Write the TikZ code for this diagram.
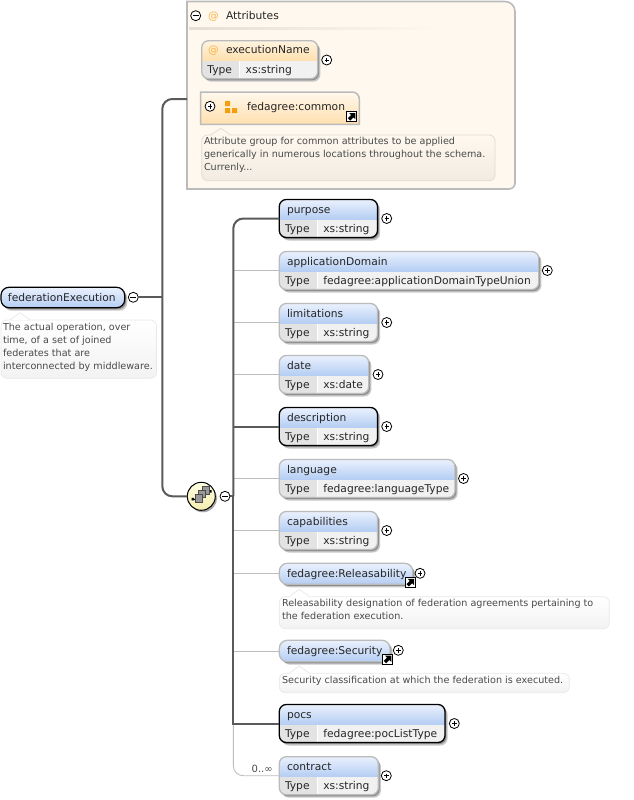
\documentclass[tikz,border=0pt]{standalone}
\usepackage{fontspec}
\setmainfont{DejaVu Sans}
\usetikzlibrary{calc,shadows}
\definecolor{busc}{HTML}{5A5A5A}
\definecolor{thinc}{HTML}{BDBDBD}
\definecolor{blueT}{HTML}{EAF1FD}
\definecolor{blueB}{HTML}{B4CDF3}
\definecolor{orgT}{HTML}{FFF4E0}
\definecolor{orgB}{HTML}{FFDFAE}
\definecolor{attrbg}{HTML}{FEF8EE}
\definecolor{attrln}{HTML}{BBBBBB}
\definecolor{orgic}{HTML}{F59E0B}
\definecolor{cellA}{HTML}{E3E3E3}
\definecolor{cellB}{HTML}{F1F1F1}
\definecolor{ntxt}{HTML}{4A4A4A}
\definecolor{seqT}{HTML}{FFFFE2}
\definecolor{seqB}{HTML}{F4ECB0}
\tikzset{
  x=1pt,y=-1pt,
  softshadow/.style={
    general shadow={fill=black!22,shadow xshift=2.6pt,shadow yshift=-3pt},
    general shadow={fill=black!45,shadow xshift=1.4pt,shadow yshift=-1.6pt}},
  boxbase/.style={rectangle,rounded corners=7pt,inner sep=0,outer sep=0,anchor=north west,softshadow},
  reqd/.style={boxbase,draw=black,line width=1.3pt},
  opt/.style={boxbase,draw=attrln,line width=1.3pt},
  lbl/.style={font=\fontsize{10.7}{13}\selectfont,inner sep=0,outer sep=0,anchor=base west,text=black!85},
  notetxt/.style={font=\fontsize{9.62}{13}\selectfont,inner sep=0,outer sep=0,anchor=north west,align=left,text=ntxt},
  noteb/.style={rectangle,rounded corners=6pt,inner sep=0,outer sep=0,anchor=north west,line width=.7pt,draw=black!9,top color=white,bottom color=black!5},
  noteo/.style={rectangle,rounded corners=6pt,inner sep=0,outer sep=0,anchor=north west,line width=.7pt,draw=black!12!attrbg,top color=attrbg,bottom color=black!5!attrbg},
  tog/.style={circle,draw=black,line width=.8pt,fill=white,minimum size=10pt,inner sep=0,outer sep=0},
  tplus/.style={tog,path picture={\draw[black,line width=.6pt]
     ($(path picture bounding box.center)+(-2.2,0)$)--($(path picture bounding box.center)+(2.2,0)$)
     ($(path picture bounding box.center)+(0,-2.2)$)--($(path picture bounding box.center)+(0,2.2)$);}},
  tminus/.style={tog,path picture={\draw[black,line width=.7pt]
     ($(path picture bounding box.center)+(-3,0)$)--($(path picture bounding box.center)+(3,0)$);}},
  busd/.style={draw=busc,line width=2pt},
  busl/.style={draw=thinc,line width=.9pt},
  linkb/.style={rectangle,draw=black,fill=white,line width=1pt,minimum size=10pt,inner sep=0,outer sep=0,anchor=north west,
     path picture={\fill[black] ($(path picture bounding box.north east)+(-1.2,1.2)$) -- ++(-6.2,0) -- ++(1.9,1.9) -- ++(-3.3,3.3) -- ++(2.4,2.4) -- ++(3.3,-3.3) -- ++(1.9,1.9) -- cycle;}},
}
\newcommand\typedbox[8]{%
  \pgfmathsetmacro\bw{#4-#2}%
  \node[#5,minimum width=\bw pt,minimum height=38pt,
    path picture={
      \begin{scope}[sharp corners]
      \coordinate (nw) at (path picture bounding box.north west);
      \coordinate (se) at (path picture bounding box.south east);
      \shade[top color=#6,bottom color=#7] (nw) rectangle ($(nw)+(\bw,20)$);
      \fill[cellA] ($(nw)+(0,20)$) rectangle ($(nw |- se)+(38,0)$);
      \fill[cellB] ($(nw)+(38,20)$) rectangle (se);
      \draw[white,line width=.7pt] ($(nw)+(38,20)$) -- ($(nw |- se)+(38,0)$);
      \end{scope}
    }] (#1) at (#2,#3) {};%
  \node[lbl] (#1-t) at ($(#1.north west)+(5.7,33)$) {Type};%
  \node[lbl] (#1-v) at ($(#1.north west)+(44,33)$) {#8};%
}
\newcommand\elembox[7]{%
  \typedbox{#1}{#2}{#3}{#4}{#5}{blueT}{blueB}{#7}%
  \node[lbl] (#1-n) at ($(#1.north west)+(7.7,14)$) {#6};%
}
\newcommand\notep[3]{%
  \fill[#3] (#1,#2) -- ++(-10,7.5) -- ++(20,0) -- cycle;
  \draw[draw=black!9,line width=.7pt] (#1-10,#2+7.2) -- (#1,#2) -- (#1+10,#2+7.2);
}
\begin{document}
\begin{tikzpicture}
\useasboundingbox (0,0) rectangle (633,800);

% attribute panel
\node[rectangle,minimum width=328pt,minimum height=187.5pt,inner sep=0,outer sep=0,anchor=north west] (attrs) at (187,1.5) {};
\filldraw[fill=attrbg,draw=attrln,line width=1.6pt]
  (attrs.north west) [rounded corners=10pt] -- (attrs.north east) [rounded corners=6pt] -- (attrs.south east) [sharp corners] -- (attrs.south west) -- cycle;
\shade[left color=black!10!attrbg,right color=attrbg,draw=none] (189,28) rectangle (440,30);
\node[tminus] (attrT) at (195.7,15.7) {};
\node[lbl,text=orgic!75] (attrAt) at (208,19.3) {@};
\node[lbl] (attrN) at (226,19.3) {Attributes};

% executionName
\typedbox{en}{201.7}{40.7}{317.7}{opt}{orgT}{orgB}{xs:string}
\node[lbl,text=orgic!75] (en-at) at (208,54) {@};
\node[lbl] (en-n) at (226,54) {executionName};
\node[tplus] (en-p) at (326.7,60) {};

% common
\node[rectangle,minimum width=158.6pt,minimum height=32.3pt,inner sep=0,outer sep=0,anchor=north west] (common) at (200.7,92) {};
\filldraw[top color=white!40!orgT,bottom color=orgB,draw=attrln,line width=1.5pt]
  (common.north west) [rounded corners=7pt] -- (common.north east) [sharp corners] -- (common.south east) -- (common.south west) -- cycle;
\node[tplus] (cm-p) at (210,106.3) {};
\fill[orgic] (225,101) rectangle (230,106) (225,108) rectangle (230,113) (232,108) rectangle (237,113);
\node[lbl] (cm-n) at (247,110) {fedagree:common};
\node[linkb] (cm-l) at (346.6,111.8) {};

\node[noteo,minimum width=293.3pt,minimum height=45.7pt] (cm-note) at (201.7,135) {};
\fill[attrbg] (220.7,128.3) -- ++(-10,7.2) -- ++(20,0) -- cycle;
\draw[draw=black!12!attrbg,line width=.7pt] (210.7,135) -- (220.7,128.3) -- (230.7,135);
\node[notetxt] (cm-t) at (204,137.5) {Attribute group for common attributes to be applied\\generically in numerous locations throughout the schema.\\Currenly...};

% root
\node[rectangle,rounded corners=8pt,draw=black,line width=1.2pt,inner sep=0,outer sep=0,anchor=north west,
  minimum width=123.7pt,minimum height=20.4pt,top color=blueT,bottom color=blueB,softshadow] (root) at (1,287.3) {};
\node[lbl] (root-n) at (8,301) {federationExecution};
\node[tminus] (root-m) at (133.3,297.3) {};
\node[noteb,minimum width=155.5pt,minimum height=58.3pt] (root-note) at (1,320) {};
\notep{20}{312.7}{white}
\node[notetxt] (root-t) at (3,323) {The actual operation, over\\time, of a set of joined\\federates that are\\interconnected by middleware.};

% sequence compositor
\node[circle,draw=black,line width=1pt,minimum size=28pt,inner sep=0,outer sep=0,
  top color=seqT,bottom color=seqB,
  general shadow={fill=black!35,shadow xshift=1.6pt,shadow yshift=-2pt}] (seq) at (201.3,496.3) {};
\node[tminus] (seq-m) at (225,496.3) {};
\draw[black,line width=.8pt] (192,499) -- (196,499) (207,491) -- (211,491);
\fill[black] (191.5,497.8) rectangle (194,500.3) (209,490) rectangle (211.5,492.5);
\filldraw[fill=black!40,draw=black!70,line width=.5pt] (202,486.5) rectangle (209,494);
\filldraw[fill=black!40,draw=black!70,line width=.5pt] (198.5,490) rectangle (205.5,497.5);
\filldraw[fill=black!40,draw=black!70,line width=.5pt] (195,494.5) rectangle (202,502);

% children
\elembox{purpose}{279.3}{199.5}{377.5}{reqd}{purpose}{xs:string}
\elembox{appdom}{279.3}{251.5}{538.8}{opt}{applicationDomain}{fedagree:applicationDomainTypeUnion}
\elembox{limit}{279.3}{303.5}{377.5}{opt}{limitations}{xs:string}
\elembox{date}{279.3}{355.5}{368.7}{opt}{date}{xs:date}
\elembox{descr}{279.3}{407.5}{377.5}{reqd}{description}{xs:string}
\elembox{lang}{279.3}{459.5}{455}{opt}{language}{fedagree:languageType}
\elembox{capab}{279.3}{511.5}{377.5}{opt}{capabilities}{xs:string}
\elembox{pocs}{279.3}{704.5}{445}{reqd}{pocs}{fedagree:pocListType}
\elembox{contract}{279.3}{756.7}{378.3}{opt}{contract}{xs:string}

\node[tplus] (purpose-p) at (386.7,218.5) {};
\node[tplus] (appdom-p) at (547.3,270.5) {};
\node[tplus] (limit-p) at (386.7,322.5) {};
\node[tplus] (date-p) at (378,374.5) {};
\node[tplus] (descr-p) at (386.7,426.5) {};
\node[tplus] (lang-p) at (463.5,478.5) {};
\node[tplus] (capab-p) at (386.7,530.5) {};
\node[tplus] (pocs-p) at (454.3,723.5) {};
\node[tplus] (contract-p) at (386.3,775.7) {};

% references
\node[boxbase,draw=attrln,line width=1.3pt,rounded corners=8pt,minimum width=133.4pt,minimum height=21pt,top color=blueT,bottom color=blueB] (rel) at (279.3,563.3) {};
\node[lbl] (rel-n) at (287,577) {fedagree:Releasability};
\node[linkb] (rel-l) at (405.3,577.7) {};
\node[tplus] (rel-p) at (420,573.3) {};
\node[noteb,minimum width=330pt,minimum height=32pt] (rel-note) at (279.3,596.7) {};
\notep{299.3}{589.3}{white}
\node[notetxt] (rel-t) at (282,598.8) {Releasability designation of federation agreements pertaining to\\the federation execution.};

\node[boxbase,draw=attrln,line width=1.3pt,rounded corners=8pt,minimum width=110.7pt,minimum height=21.4pt,top color=blueT,bottom color=blueB] (sec) at (279.3,640.3) {};
\node[lbl] (sec-n) at (287,654) {fedagree:Security};
\node[linkb] (sec-l) at (382.5,654.5) {};
\node[tplus] (sec-p) at (398.3,650.3) {};
\node[noteb,minimum width=290pt,minimum height=19.4pt] (sec-note) at (279.3,673.3) {};
\notep{299.3}{666}{white}
\node[notetxt] (sec-t) at (282,676) {Security classification at which the federation is executed.};

\node[font=\fontsize{10}{12}\selectfont,inner sep=0,outer sep=0,anchor=base west,text=ntxt] (occ) at (251.7,772) {0..∞};

% connectors
\coordinate (attrIn) at (attrs.west |- 0,99);
\coordinate (bj) at (162.3,297.3);
\coordinate (bk) at (233.3,496.3);
\draw[busd] (root-m.east) -- (bj);
\draw[busd,rounded corners=10pt] (attrIn) -| (bj) |- (seq.west);
\draw[busd] (seq-m.east) -- (bk);
\foreach \n in {appdom,limit,date,lang,capab,rel,sec}{
  \draw[busl] (\n.west) -- (\n.west -| bk);
}
\draw[busl,rounded corners=10pt] (contract.west) -- (contract.west -| bk) -- (pocs.west -| bk);
\draw[busd,rounded corners=10pt] (purpose.west) -| (bk);
\draw[busd] (bk) |- (pocs.west);
\draw[busd] (descr.west) -- (descr.west -| bk);
\end{tikzpicture}
\end{document}
